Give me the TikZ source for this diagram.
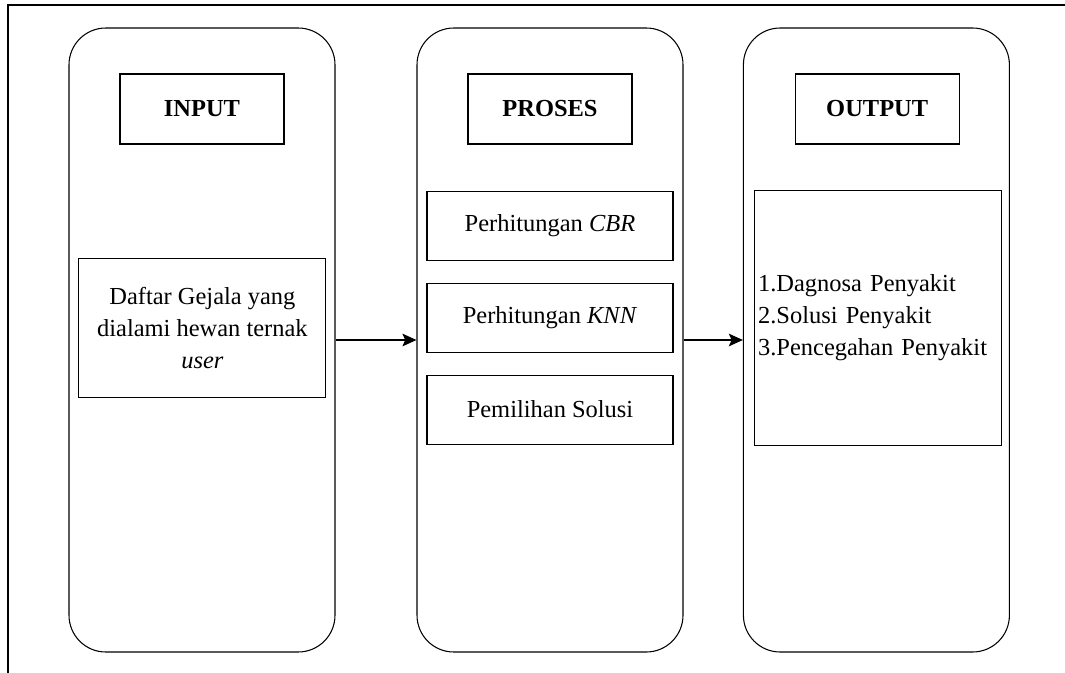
\documentclass[tikz,border=0pt]{standalone}
\usepackage{fontspec}
\setmainfont{Liberation Serif}
\usetikzlibrary{arrows.meta}
\begin{document}
\begin{tikzpicture}[line width=0.75pt,
  every node/.style={font=\fontsize{17.4}{22.7}\selectfont},
  column/.style={draw, rounded corners=0.92cm, minimum width=6.65cm, minimum height=15.6cm},
  head/.style={draw, minimum width=4.1cm, minimum height=1.75cm, font=\fontsize{17.4}{22.7}\selectfont\bfseries},
  item/.style={draw, minimum width=6.15cm, minimum height=1.725cm}]
\useasboundingbox (0,0) rectangle (26.625,-16.8);
\clip (0,0) rectangle (26.625,-16.8);
\draw (0.2,-0.125) rectangle (27,-17.5);
% three columns
\node[column] (colIn) at (5.05,-8.5) {};
\node[column] (colProc) at (13.75,-8.5) {};
\node[column] (colOut) at (21.91,-8.5) {};
\node[head] (hIn) at (5.05,-2.725) {INPUT};
\node[head] (hProc) at (13.75,-2.725) {PROSES};
\node[head] (hOut) at (21.93,-2.725) {OUTPUT};
% input
\node[draw, minimum width=6.175cm, minimum height=3.475cm, align=center] (gejala) at (5.06,-8.21) {Daftar Gejala yang\\dialami hewan ternak\\\textit{user}};
% proses
\node[item] (cbr) at (13.75,-5.64) {Perhitungan \textit{CBR}};
\node[item] (knn) at (13.75,-7.94) {Perhitungan \textit{KNN}};
\node[item] (solusi) at (13.75,-10.24) {Pemilihan Solusi};
% output
\node[draw, text width=5.975cm, inner xsep=0.1cm, minimum height=6.375cm, align=left] (hasil) at (21.94,-7.94) {1.Dagnosa Penyakit\\2.Solusi Penyakit\\3.Pencegahan Penyakit};
\draw[-{Stealth[length=10pt, width=9pt, inset=2pt]}] (colIn) -- (colProc);
\draw[-{Stealth[length=10pt, width=9pt, inset=2pt]}] (colProc) -- (colOut);
\end{tikzpicture}
\end{document}
